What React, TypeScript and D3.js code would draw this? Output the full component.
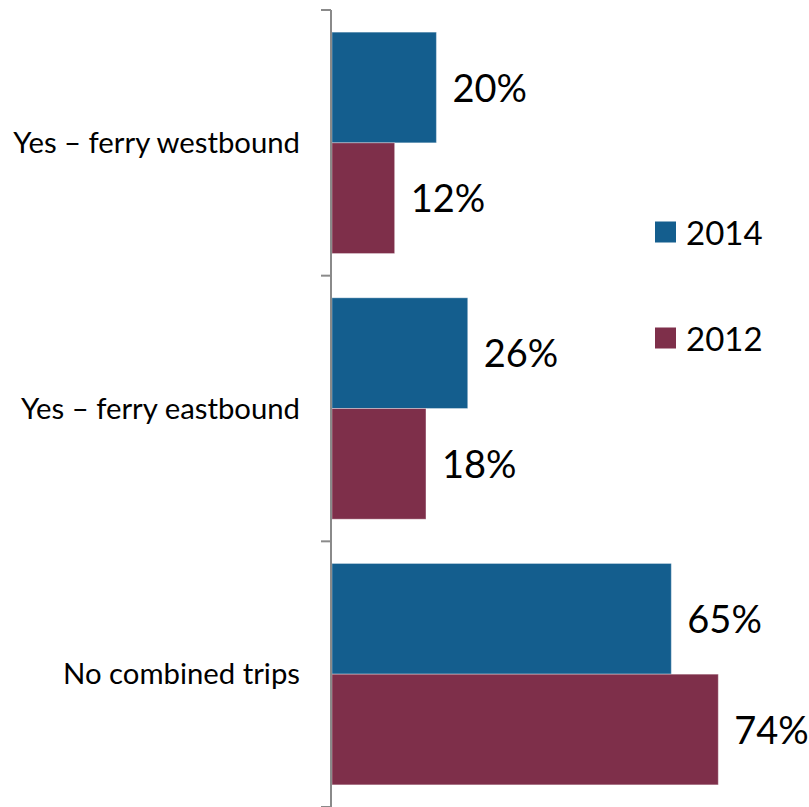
import React from "react";
import * as d3 from "d3";

const categories = ["Yes – ferry westbound", "Yes – ferry eastbound", "No combined trips"];
const seriesNames = ["2014", "2012"];
const values2014 = [20, 26, 65];
const values2012 = [12, 18, 74];
const colors = ["#145E8E", "#7E2F4A"];

const W = 809;
const H = 807;
const FONT = "Lato, 'Open Sans', sans-serif";

export default function App() {
  const y = d3.scaleBand<string>().domain(categories).range([10, 807]).padding(0);
  const inner = d3
    .scaleBand<string>()
    .domain(seriesNames)
    .range([0, y.bandwidth()])
    .paddingInner(0)
    .paddingOuter(0.2);
  const x = d3.scaleLinear().domain([0, 80]).range([332, 332 + 80 * 5.22]);
  const series = [values2014, values2012];
  const axisX = 331;
  const tickYs = [...categories.map((c) => y(c) as number), 807];

  return (
    <svg
      width={W}
      height={H}
      style={{ position: "absolute", left: 0, top: 0, display: "block", background: "#fff" }}
    >
      {categories.map((c, ci) =>
        seriesNames.map((s, si) => {
          const v = series[si][ci];
          const by = (y(c) as number) + (inner(s) as number);
          const bh = inner.bandwidth();
          return (
            <g key={c + s}>
              <rect
                x={x(0)}
                y={by}
                width={x(v) - x(0)}
                height={bh}
                fill={colors[si]}
                stroke="#ffffff"
                strokeOpacity={0.35}
                strokeWidth={1}
              />
              <text
                x={x(v) + 16}
                y={by + bh / 2 + 1}
                dy="0.35em"
                fontFamily={FONT}
                fontSize={38}
                fill="#000"
              >
                {v}%
              </text>
            </g>
          );
        })
      )}
      {categories.map((c) => (
        <text
          key={c}
          x={300}
          y={(y(c) as number) + y.bandwidth() / 2}
          dy="0.35em"
          textAnchor="end"
          fontFamily={FONT}
          fontSize={29.3}
          fill="#000"
        >
          {c}
        </text>
      ))}
      <line x1={axisX} x2={axisX} y1={10} y2={807} stroke="#8a8a8a" strokeWidth={2} />
      {tickYs.map((t, i) => (
        <line key={i} x1={321} x2={axisX} y1={t} y2={t} stroke="#8a8a8a" strokeWidth={2} />
      ))}
      {seriesNames.map((s, si) => {
        const ly = 232 + si * 106;
        return (
          <g key={s}>
            <rect x={655} y={ly - 10.5} width={21} height={21} fill={colors[si]} />
            <text x={686} y={ly + 1} dy="0.35em" fontFamily={FONT} fontSize={33} fill="#000">
              {s}
            </text>
          </g>
        );
      })}
    </svg>
  );
}
